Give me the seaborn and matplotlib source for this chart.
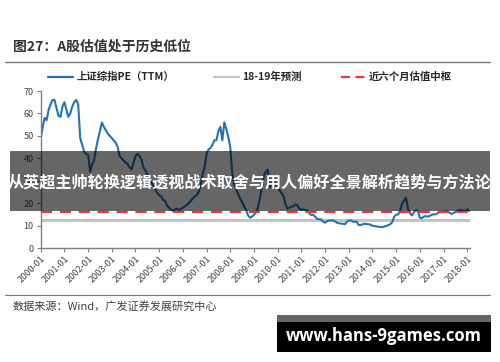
import matplotlib
matplotlib.use("Agg")
import matplotlib.pyplot as plt
from matplotlib.patches import Rectangle
from matplotlib.lines import Line2D
import seaborn as sns
import pandas as pd

sns.set_theme(style="white")
plt.rcParams['font.family'] = ['Noto Sans CJK SC', 'DejaVu Sans']
plt.rcParams['axes.unicode_minus'] = False

# ---- data (monthly) ----
start_month = "2000-01-01"
pe_2000 = [49, 54, 58, 57, 61.5, 64, 66, 66, 62.5, 59, 58.5, 63]
pe_2001 = [65, 61.5, 58.5, 60, 63, 65, 66, 64, 49, 46, 43, 42]
pe_2002 = [41.5, 34, 37, 39, 44, 48.5, 52, 56, 54, 52.5, 51, 50]
pe_2003 = [49, 48, 47, 45, 41, 40, 39, 38, 37.5, 36, 35, 38]
pe_2004 = [41, 42, 41, 39.5, 36, 34.5, 33, 31, 29, 28, 26, 24.5]
pe_2005 = [23.5, 23, 21.5, 21, 19, 18, 17, 16.5, 17.2, 17.5, 17, 17.5]
pe_2006 = [18, 18.5, 19.2, 20, 21, 22, 23, 23.5, 25, 28, 33, 36]
pe_2007 = [42, 44, 44.5, 46, 48, 48, 52, 54, 48, 56, 53, 49.5]
pe_2008 = [45, 33, 28.5, 26, 24, 22, 20.5, 18.5, 17, 14.5, 13.5, 14]
pe_2009 = [14.8, 16, 18, 22, 27, 32, 34, 35, 27, 29, 30, 28.5]
pe_2010 = [27, 25.5, 24.5, 23, 19.5, 17.5, 18, 18.5, 18.5, 19.5, 19, 17.5]
pe_2011 = [17, 17.2, 16.8, 16.8, 15.5, 14.7, 14.8, 14, 13, 12.8, 12.8, 11.8]
pe_2012 = [11.3, 12.0, 12.3, 12.4, 12.3, 11.9, 11.3, 11.0, 10.9, 10.8, 10.6, 11.6]
pe_2013 = [12.3, 12.4, 11.8, 11.6, 11.8, 10.3, 10.2, 10.6, 10.8, 10.7, 10.6, 10.4]
pe_2014 = [9.9, 9.8, 9.6, 9.5, 9.4, 9.3, 9.6, 9.8, 10.2, 10.6, 11.5, 14.0]
pe_2015 = [14.8, 15.0, 16.5, 19.5, 21.0, 22.5, 17.5, 15.5, 14.5, 16.0, 16.8, 16.5]
pe_2016 = [13.5, 13.3, 14.0, 14.2, 14.0, 14.3, 14.8, 15.0, 15.0, 15.5, 16.0, 16.0]
pe_2017 = [16.1, 16.4, 16.3, 15.8, 15.2, 15.6, 16.0, 16.6, 16.8, 17.0, 16.5, 16.5]
pe_2018 = [17.2, 16.5]

forecast_pe = 12.7     # 18-19年预测
median_pe = 16.2       # 近六个月估值中枢

series_label = "上证综指PE（TTM）"
forecast_label = "18-19年预测"
median_label = "近六个月估值中枢"
y_ticks = [0, 10, 20, 30, 40, 50, 60, 70]
tick_years = list(range(2000, 2019))

pe = (pe_2000 + pe_2001 + pe_2002 + pe_2003 + pe_2004 + pe_2005 + pe_2006 +
      pe_2007 + pe_2008 + pe_2009 + pe_2010 + pe_2011 + pe_2012 + pe_2013 +
      pe_2014 + pe_2015 + pe_2016 + pe_2017 + pe_2018)
dates = pd.date_range(start_month, periods=len(pe), freq="MS")
df = pd.DataFrame({"date": dates, "pe": pe})

# ---- figure ----
W, H = 500, 362
fig = plt.figure(figsize=(W / 100, H / 100), dpi=100)
fig.patch.set_facecolor("white")

def fx(px):
    return px / W

def fy(py):
    return 1 - py / H

ax = fig.add_axes([fx(40.7), fy(248), fx(470) - fx(40.7), fy(91) - fy(248)])
ax.set_facecolor("white")

blue = "#2472B3"
sns.lineplot(data=df, x="date", y="pe", ax=ax, color=blue, linewidth=1.5, legend=False)
ax.axhline(forecast_pe, color="#C4C4C4", linewidth=2.2, zorder=1)
ax.axhline(median_pe, color="#E8383A", linewidth=1.6, dashes=(5, 3.5), zorder=3)

ax.set_ylim(0, 70)
ax.set_xlim(pd.Timestamp("2000-01-01"), pd.Timestamp("2018-02-12"))
ax.set_yticks(y_ticks)
ax.set_yticklabels([str(v) for v in y_ticks])
xt = [pd.Timestamp(f"{y}-01-01") for y in tick_years]
ax.set_xticks(xt)
ax.set_xticklabels([f"{y}-01" for y in tick_years], rotation=45, ha="right",
                   rotation_mode="anchor")
ax.set_xlabel("")
ax.set_ylabel("")
for s in ["top", "right"]:
    ax.spines[s].set_visible(False)
for s in ["left", "bottom"]:
    ax.spines[s].set_color("#7F7F7F")
    ax.spines[s].set_linewidth(1.0)
ax.tick_params(axis="both", which="both", direction="out", length=3, width=0.8,
               color="#7F7F7F", labelcolor="#404040", labelsize=6.5, pad=2)
ax.tick_params(axis="x", pad=1.5)
ax.tick_params(axis="y", left=True)
ax.tick_params(axis="x", bottom=True)
ax.grid(False)

# ---- legend ----
handles = [Line2D([], [], color=blue, lw=1.6),
           Line2D([], [], color="#C4C4C4", lw=1.6),
           Line2D([], [], color="#E8383A", lw=1.6, dashes=(4, 2.5))]
leg = fig.legend(handles, [series_label, forecast_label, median_label],
                 loc="center", bbox_to_anchor=(0.5, fy(77)), ncol=3, frameon=False,
                 handlelength=2.4, handletextpad=0.3, columnspacing=3.8,
                 prop={"size": 7.5, "weight": "bold"})

# ---- title / rules / source ----
fig.text(fx(13), fy(47), "图27：A股估值处于历史低位", fontsize=10, fontweight="bold",
         color="#333333", va="center", ha="left")
fig.add_artist(Line2D([fx(5), fx(490)], [fy(62), fy(62)], color="#7A7A7A", lw=1))
fig.add_artist(Line2D([fx(5), fx(490)], [fy(295), fy(295)], color="#7A7A7A", lw=0.8))
fig.text(fx(13), fy(306), "数据来源：Wind，广发证券发展研究中心", fontsize=8,
         color="#404040", va="center", ha="left")

# ---- overlay banner ----
fig.add_artist(Rectangle((fx(10), fy(211)), fx(490) - fx(10), fy(151) - fy(211),
                         transform=fig.transFigure, facecolor="black", alpha=0.6,
                         edgecolor="none", zorder=10))
fig.text(0.5, fy(182), "从英超主帅轮换逻辑透视战术取舍与用人偏好全景解析趋势与方法论",
         fontsize=11.6, fontweight="bold", color="white", ha="center", va="center",
         zorder=11)

# ---- watermark ----
fig.add_artist(Rectangle((fx(277), fy(322)), fx(491) - fx(277), fy(315) - fy(322),
                         transform=fig.transFigure, facecolor="#666666",
                         edgecolor="none", zorder=10))
fig.add_artist(Rectangle((fx(277), fy(352)), fx(491) - fx(277), fy(322) - fy(352),
                         transform=fig.transFigure, facecolor="black",
                         edgecolor="none", zorder=10))
fig.text(fx(384), fy(336), "www.hans-9games.com", fontsize=12, fontweight="bold",
         color="white", ha="center", va="center", zorder=11,
         family=["Open Sans", "DejaVu Sans"])

fig.savefig("out.png", dpi=100, facecolor="white")
